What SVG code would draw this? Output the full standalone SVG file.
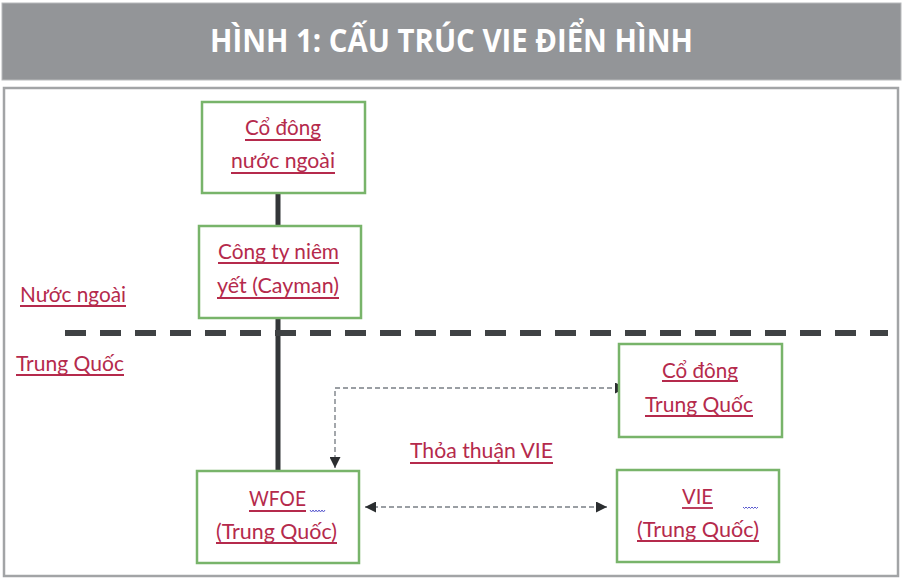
<svg xmlns="http://www.w3.org/2000/svg" width="903" height="579" viewBox="0 0 903 579">
<style>
.lbl{font-family:Lato,"Open Sans","Liberation Sans",sans-serif;font-size:22px;fill:#b52a4c}
.ul{stroke:#b52a4c;stroke-width:1.8}
.box{fill:#fff;stroke:#78b46a;stroke-width:2.5}
.title{font-family:"Open Sans","Liberation Sans",sans-serif;font-weight:700;font-size:33px;fill:#fff}
.sq{fill:none;stroke:#5a5ad0;stroke-width:1}
</style>
<defs>
<marker id="ah" viewBox="0 0 10 10" refX="10" refY="5" markerWidth="12" markerHeight="11" markerUnits="userSpaceOnUse" orient="auto-start-reverse">
<path d="M0,0 L10,5 L0,10 z" fill="#2b2e30"/>
</marker>
</defs>
<rect width="903" height="579" fill="#fff"/>
<g id="header">
<rect x="2" y="3" width="899" height="77" fill="#939598" stroke="#b8babc" stroke-width="1"/>
<text class="title" x="451.5" y="52" text-anchor="middle" textLength="483" lengthAdjust="spacingAndGlyphs">HÌNH 1: CẤU TRÚC VIE ĐIỂN HÌNH</text>
</g>
<rect id="frame" x="4" y="88" width="894" height="488" fill="none" stroke="#a2a4a6" stroke-width="2.5"/>
<g id="connectors">
<line x1="278" y1="193" x2="278" y2="471" stroke="#333638" stroke-width="5"/>
<line x1="65" y1="333" x2="888" y2="333" stroke="#3f4244" stroke-width="6" stroke-dasharray="21 14"/>
<path d="M335,468 L335,388 L626,388" fill="none" stroke="#9a9ea3" stroke-width="1.8" stroke-dasharray="5 3" marker-start="url(#ah)" marker-end="url(#ah)"/>
<path d="M365,507 L607,507" fill="none" stroke="#9a9ea3" stroke-width="1.8" stroke-dasharray="5 3" marker-start="url(#ah)" marker-end="url(#ah)"/>
</g>
<g id="region-labels">
<text class="lbl" x="20" y="302" textLength="106" lengthAdjust="spacingAndGlyphs">Nước ngoài</text>
<line class="ul" x1="20" y1="306" x2="126" y2="306"/>
<text class="lbl" x="16" y="371" textLength="108" lengthAdjust="spacingAndGlyphs">Trung Quốc</text>
<line class="ul" x1="16" y1="375" x2="124" y2="375"/>
</g>
<g id="node-co-dong-nuoc-ngoai">
<rect class="box" x="202" y="102" width="163" height="91"/>
<text class="lbl" x="245" y="135" textLength="76" lengthAdjust="spacingAndGlyphs">Cổ đông</text>
<line class="ul" x1="245" y1="140" x2="321" y2="140"/>
<text class="lbl" x="231" y="168" textLength="104" lengthAdjust="spacingAndGlyphs">nước ngoài</text>
<line class="ul" x1="231" y1="173" x2="335" y2="173"/>
</g>
<g id="node-cong-ty-niem-yet">
<rect class="box" x="199" y="226" width="162" height="92"/>
<text class="lbl" x="218" y="259" textLength="121" lengthAdjust="spacingAndGlyphs">Công ty niêm</text>
<line class="ul" x1="218" y1="263" x2="339" y2="263"/>
<text class="lbl" x="217" y="293" textLength="122" lengthAdjust="spacingAndGlyphs">yết (Cayman)</text>
<line class="ul" x1="217" y1="298" x2="339" y2="298"/>
</g>
<g id="node-co-dong-trung-quoc">
<rect class="box" x="619" y="344" width="163" height="93"/>
<text class="lbl" x="662" y="378" textLength="76" lengthAdjust="spacingAndGlyphs">Cổ đông</text>
<line class="ul" x1="662" y1="381" x2="738" y2="381"/>
<text class="lbl" x="645" y="412" textLength="108" lengthAdjust="spacingAndGlyphs">Trung Quốc</text>
<line class="ul" x1="645" y1="416" x2="753" y2="416"/>
</g>
<g id="label-thoa-thuan">
<text class="lbl" x="410" y="458" textLength="143" lengthAdjust="spacingAndGlyphs">Thỏa thuận VIE</text>
<line class="ul" x1="410" y1="463" x2="553" y2="463"/>
</g>
<g id="node-wfoe">
<rect class="box" x="197" y="471" width="162" height="92"/>
<text class="lbl" x="249" y="506" textLength="57" lengthAdjust="spacingAndGlyphs">WFOE</text>
<line class="ul" x1="249" y1="511" x2="306" y2="511"/>
<path class="sq" d="M310,510 l1.5,2 l1.5,-2 l1.5,2 l1.5,-2 l1.5,2 l1.5,-2 l1.5,2 l1.5,-2 l1.5,2 l1.5,-2"/>
<text class="lbl" x="216" y="539" textLength="121" lengthAdjust="spacingAndGlyphs">(Trung Quốc)</text>
<line class="ul" x1="216" y1="543" x2="337" y2="543"/>
</g>
<g id="node-vie">
<rect class="box" x="617" y="470" width="162" height="92"/>
<text class="lbl" x="682" y="504" textLength="31" lengthAdjust="spacingAndGlyphs">VIE</text>
<line class="ul" x1="682" y1="508" x2="713" y2="508"/>
<path class="sq" d="M743,507 l1.5,1.5 l1.5,-1.5 l1.5,1.5 l1.5,-1.5 l1.5,1.5 l1.5,-1.5 l1.5,1.5 l1.5,-1.5 l1.5,1.5 l1.5,-1.5"/>
<text class="lbl" x="637" y="537" textLength="122" lengthAdjust="spacingAndGlyphs">(Trung Quốc)</text>
<line class="ul" x1="637" y1="541" x2="759" y2="541"/>
</g>
</svg>
